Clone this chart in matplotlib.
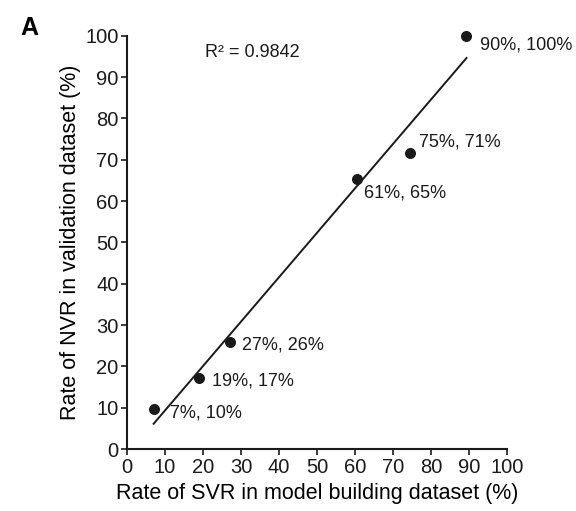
import matplotlib.pyplot as plt
import numpy as np

plt.rcParams['font.family'] = ['Liberation Sans', 'DejaVu Sans']

# SVR rate (model building) vs NVR rate (validation), in %
svr_rate = [7, 19, 27, 60.5, 74.5, 89.3]
nvr_rate = [9.7, 17.2, 25.9, 65.4, 71.6, 100]
point_labels = ['7%, 10%', '19%, 17%', '27%, 26%', '61%, 65%', '75%, 71%', '90%, 100%']
label_offsets = [(12, -3), (9, -2), (9, -2), (5, -10), (6, 8), (10, -7)]
r_squared = 0.9842

fig = plt.figure(figsize=(5.76, 5.11), dpi=100)
ax = fig.add_axes([0.2205, 0.121, 0.66, 0.809])

ax.scatter(svr_rate, nvr_rate, s=48, color='#1a1a1a', zorder=3, clip_on=False)

# linear trend line over the data range
slope, intercept = np.polyfit(svr_rate, nvr_rate, 1)
xs = np.array([min(svr_rate), max(svr_rate)])
ax.plot(xs, slope * xs + intercept, color='#1a1a1a', linewidth=1.4)

for x, y, lab, off in zip(svr_rate, nvr_rate, point_labels, label_offsets):
    ax.annotate(lab, (x, y), xytext=off, textcoords='offset points',
                fontsize=13, va='center', ha='left', color='#1a1a1a')

ax.text(0.205, 0.96, f'R² = {r_squared}', transform=ax.transAxes,
        fontsize=13, va='center', color='#1a1a1a')

ax.set_xlim(0, 100)
ax.set_ylim(0, 100)
ax.set_xticks(range(0, 101, 10))
ax.set_yticks(range(0, 101, 10))
ax.spines['top'].set_visible(False)
ax.spines['right'].set_visible(False)
for sp in ('left', 'bottom'):
    ax.spines[sp].set_linewidth(1.5)
    ax.spines[sp].set_color('#1a1a1a')
ax.tick_params(direction='out', length=4, width=1.2, labelsize=14.5, colors='#1a1a1a',
               pad=2)

ax.set_xlabel('Rate of SVR in model building dataset (%)', fontsize=15.5, labelpad=5)
ax.set_ylabel('Rate of NVR in validation dataset (%)', fontsize=15.5, labelpad=3)

fig.text(0.035, 0.945, 'A', fontsize=18, fontweight='bold', va='center')

fig.savefig('out.png', dpi=100)
